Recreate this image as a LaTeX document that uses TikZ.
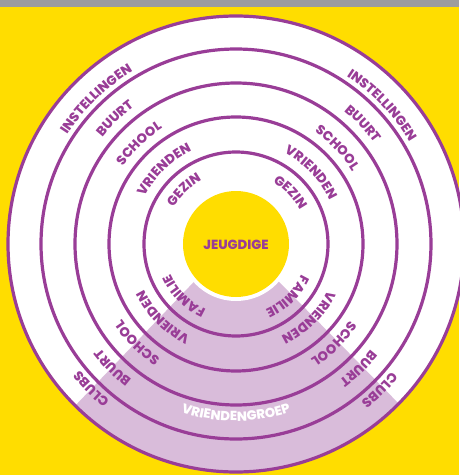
\documentclass[tikz,border=0pt]{standalone}
\usepackage{fontspec}
\newfontfamily\lblfont{Poppins}[BoldFont={Poppins ExtraBold}]
\usetikzlibrary{backgrounds,decorations.text}
\pgfdeclarelayer{edgelayer}
\pgfdeclarelayer{nodelayer}
\pgfsetlayers{edgelayer,main,nodelayer}
\definecolor{bgyellow}{HTML}{FFDD00}
\definecolor{ringpurple}{HTML}{993D97}
\definecolor{lilac}{HTML}{D9BCDA}
\definecolor{topgrey}{HTML}{9C9C9F}
\newcommand{\lblf}{\lblfont\bfseries\fontsize{13.2}{15}\selectfont}
\tikzset{font=\lblf}
\tikzstyle{ring}=[draw=ringpurple, line width=3.2pt]
\tikzstyle{lbl}=[decorate, decoration={text along path, text align=center, text color=ringpurple}]
% text on a clockwise arc, letters facing outwards
\newcommand{\ringlabel}[3]{\path[lbl, decoration={text={|\lblf|#3}}] (#1+30:#2) arc[start angle=#1+30, end angle=#1-30, radius=#2];}

\begin{document}
\begin{tikzpicture}[x=1pt, y=1pt]
	\useasboundingbox (-236,-231) rectangle (223,244);
	\begin{pgfonlayer}{edgelayer}
		\fill[bgyellow] (-236,-231) rectangle (223,244);
		\fill[topgrey] (-236,237) rectangle (223,244);
		\fill[white] (0,0) circle (228);
		\begin{scope}
			\clip (0,0) circle (228);
			\fill[lilac] (0,6) -- +(226.2:400) -- +(270:400) -- +(314.5:400) -- cycle;
		\end{scope}
		\fill[white] (0,0) circle (57);
		\fill[bgyellow] (0,0) circle (53);
	\end{pgfonlayer}
	\draw[ring] (0,0) circle (92);
	\draw[ring] (0,0) circle (127);
	\draw[ring] (0,0) circle (161);
	\draw[ring] (0,0) circle (195);
	\draw[ring] (0,0) circle (228);
	\begin{pgfonlayer}{nodelayer}
		\node[text=ringpurple] (0) at (0,-1) {JEUGDIGE};
		% upper left
		\ringlabel{134}{72}{GEZIN}
		\ringlabel{134}{103}{VRIENDEN}
		\ringlabel{134}{137}{SCHOOL}
		\ringlabel{134}{171}{BUURT}
		\ringlabel{134}{201}{INSTELLINGEN}
		% upper right
		\ringlabel{43.5}{72}{GEZIN}
		\ringlabel{43.5}{103}{VRIENDEN}
		\ringlabel{43.5}{137}{SCHOOL}
		\ringlabel{43.5}{171}{BUURT}
		\ringlabel{43.5}{201}{INSTELLINGEN}
		% lower left
		\ringlabel{225}{72}{FAMILIE}
		\ringlabel{225}{103}{VRIENDEN}
		\ringlabel{225}{137}{SCHOOL}
		\ringlabel{225}{171}{BUURT}
		\ringlabel{225}{201}{CLUBS}
		% lower right
		\ringlabel{314.5}{72}{FAMILIE}
		\ringlabel{314.5}{103}{VRIENDEN}
		\ringlabel{314.5}{137}{SCHOOL}
		\ringlabel{314.5}{171}{BUURT}
		\ringlabel{314.5}{201}{CLUBS}
		\path[lbl, decoration={text color=white, text={|\lblf|VRIENDENGROEP}}] (245:177) arc[start angle=245, end angle=295, radius=177];
	\end{pgfonlayer}
\end{tikzpicture}
\end{document}
